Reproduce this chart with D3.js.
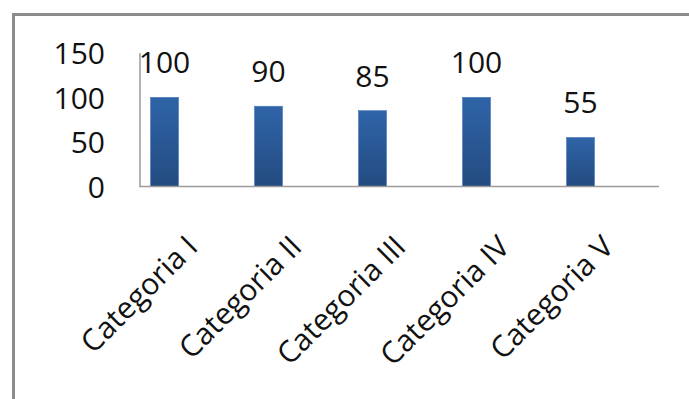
<!DOCTYPE html>
<html>
<head>
<meta charset="utf-8">
<script src="https://cdn.jsdelivr.net/npm/d3@7"></script>
<style>
  body { margin: 0; background: #fff; }
  text { font-family: 'Open Sans', sans-serif; fill: #111; }
</style>
</head>
<body>
<svg width="689" height="399"></svg>
<script>
const categories = ['Categoria I', 'Categoria II', 'Categoria III', 'Categoria IV', 'Categoria V'];
const values = [100, 90, 85, 100, 55];
const yTicks = [0, 50, 100, 150];

const svg = d3.select('svg');
const width = +svg.attr('width');
const height = +svg.attr('height');

// frame: only top and left edges show
svg.append('path')
    .attr('d', `M13.5,${height} V14.5 H${width}`)
    .attr('fill', 'none')
    .attr('stroke', '#8c8c8c')
    .attr('stroke-width', 3);

const plotLeft = 139.5;
const plotRight = 659;
const plotBottom = 186.5;

const xScale = d3.scaleBand()
    .domain(categories)
    .range([112.5, 632.5])
    .paddingInner(0.73)
    .paddingOuter(0.365);

const yScale = d3.scaleLinear()
    .domain([0, 150])
    .range([plotBottom, 52.7]);

const defs = svg.append('defs');
const grad = defs.append('linearGradient')
    .attr('id', 'barGrad')
    .attr('x1', 0).attr('y1', 0).attr('x2', 0).attr('y2', 1);
grad.append('stop').attr('offset', '0%').attr('stop-color', '#2f64a8');
grad.append('stop').attr('offset', '100%').attr('stop-color', '#234b80');

// bars
svg.selectAll('rect.bar').data(values)
    .enter().append('rect')
        .attr('class', 'bar')
        .attr('x', (d, i) => xScale(categories[i]))
        .attr('y', d => yScale(d))
        .attr('width', xScale.bandwidth())
        .attr('height', d => plotBottom - yScale(d))
        .attr('fill', 'url(#barGrad)')
        .attr('stroke', '#4a7cbb')
        .attr('stroke-width', 0.6);

// y axis
const yAxis = d3.axisLeft(yScale)
    .tickValues(yTicks)
    .tickSize(0)
    .tickPadding(34.5);

const yAxisG = svg.append('g')
    .attr('transform', `translate(${plotLeft}, 0)`)
    .call(yAxis);
yAxisG.select('.domain')
    .attr('stroke', '#9a9a9a')
    .attr('stroke-width', 1.5);
yAxisG.selectAll('text')
    .attr('font-size', 30)
    .attr('font-family', "'Open Sans', sans-serif")
    .attr('fill', '#111')
    .attr('dy', '0.36em');

// x axis
const xAxis = d3.axisBottom(xScale).tickSize(0);
const xAxisG = svg.append('g')
    .attr('transform', `translate(0, ${plotBottom})`)
    .call(xAxis);
xAxisG.select('.domain').remove();
xAxisG.append('line')
    .attr('x1', plotLeft)
    .attr('x2', plotRight)
    .attr('stroke', '#9a9a9a')
    .attr('stroke-width', 1.5);
xAxisG.selectAll('.tick text')
    .attr('font-size', 30)
    .attr('font-family', "'Open Sans', sans-serif")
    .attr('fill', '#111')
    .attr('text-anchor', 'end')
    .attr('x', 0)
    .attr('y', 0)
    .attr('dy', 0)
    .attr('transform', 'translate(35, 62) rotate(-45)');

// value labels
svg.selectAll('text.value').data(values)
    .enter().append('text')
        .attr('class', 'value')
        .attr('x', (d, i) => xScale(categories[i]) + xScale.bandwidth() / 2)
        .attr('y', d => yScale(d) - 24)
        .attr('text-anchor', 'middle')
        .attr('font-size', 30)
        .text(d => d);
</script>
</body>
</html>
